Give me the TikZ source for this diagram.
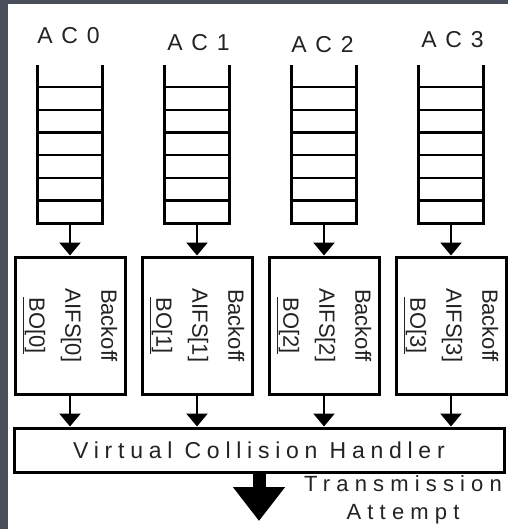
\documentclass[tikz,border=0pt]{standalone}
\usepackage{fontspec}
\setmainfont{Liberation Sans}
\usetikzlibrary{arrows.meta,positioning}
\definecolor{slide}{RGB}{74,77,90}
\definecolor{ink}{RGB}{35,35,35}

\begin{document}
\begin{tikzpicture}[x=1pt, y=-1pt,
    aclabel/.style={font=\fontsize{23}{23}\selectfont\addfontfeatures{LetterSpace=38}, text=ink, inner sep=0pt},
    queue/.style={minimum width=64pt, minimum height=158pt, inner sep=0pt},
    rail/.style={line width=3pt},
    rung/.style={line width=2.5pt},
    acbox/.style={draw, line width=3pt, minimum width=110pt, minimum height=137pt, inner sep=0pt},
    boxtext/.style={rotate=-90, align=center, inner sep=0pt, text=ink, font=\fontsize{22}{36}\selectfont},
    handler/.style={draw, line width=3pt, minimum width=490pt, minimum height=44pt, inner sep=0pt,
                    text=ink, font=\fontsize{23}{23}\selectfont\addfontfeatures{LetterSpace=25}},
    arr/.style={-{Triangle[length=13pt, width=21pt]}, line width=2.5pt},
    bigarr/.style={-{Triangle[length=34pt, width=50pt]}, line width=13pt},
]
% Slide background and white panel
\fill[slide] (0,0) rectangle (508,529);
\fill[white] (8,4) rectangle (508,529);
\useasboundingbox (0,0) rectangle (508,529);

% Access categories: label, queue, backoff entity
\foreach \i/\x/\lx/\ly in {0/70/68.5/36, 1/197/198.5/43, 2/324/322.5/45, 3/451/452.5/40} {
    \node[aclabel] (ac\i) at (\lx,\ly) {AC\i};
    \node[queue] (q\i) at (\x,144) {};
    \draw[rail] (q\i.north west) -- (q\i.south west) -- (q\i.south east) -- (q\i.north east);
    \foreach \k in {1,...,6} {
        \draw[rung] ([yshift=\k*22.67pt]q\i.south west) -- ([yshift=\k*22.67pt]q\i.south east);
    }
    \node[acbox] (b\i) at (\x,325.5) {};
    \node[boxtext] (t\i) at (b\i) {Backoff\\AIFS[\i]\\\underline{BO[\i]}};
    \draw[arr] (q\i.south) -- (b\i.north);
}

% Virtual collision handler
\node[handler] (vch) at (259,450) {Virtual Collision Handler};
\foreach \i in {0,...,3} {
    \draw[arr] (b\i.south) -- (vch.north -| b\i.south);
}

% Transmission attempt
\coordinate (tx) at (259,521);
\draw[bigarr] (vch.south) -- (tx);
\node[text=ink, align=center, inner sep=0pt,
      font=\fontsize{22}{28}\selectfont\addfontfeatures{LetterSpace=28}] (ta) at (403,500) {Transmission\\Attempt};
\end{tikzpicture}
\end{document}
